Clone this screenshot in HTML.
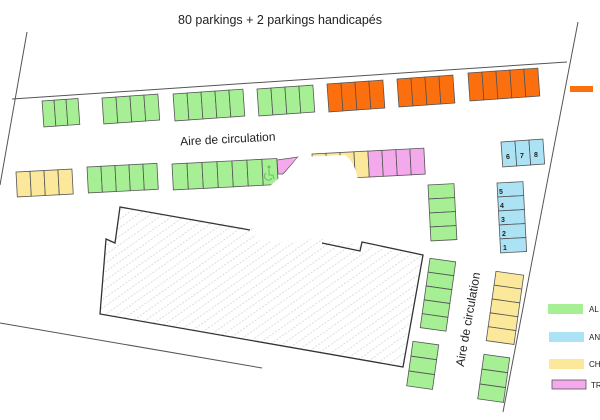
<!DOCTYPE html>
<html><head><meta charset="utf-8"><style>
html,body{margin:0;padding:0;background:#fff;width:600px;height:420px;overflow:hidden}
svg{display:block}
text{font-family:"Liberation Sans",sans-serif;fill:#222}
</style></head><body>
<svg width="600" height="420" viewBox="0 0 600 420" xmlns="http://www.w3.org/2000/svg">
<defs>
<pattern id="h" width="7" height="7" patternUnits="userSpaceOnUse" patternTransform="rotate(-35)">
<line x1="0" y1="3" x2="7" y2="3" stroke="#ddd" stroke-width="1" stroke-dasharray="2,1.5"/>
</pattern>
</defs>
<text x="280" y="24" font-size="12.5" text-anchor="middle">80 parkings + 2 parkings handicapés</text>
<g stroke="#555" stroke-width="1" fill="none">
<line x1="27" y1="32" x2="0" y2="185"/>
<line x1="12" y1="99" x2="567" y2="62"/>
<line x1="578" y1="22" x2="503" y2="412"/>
<line x1="0" y1="323" x2="262" y2="368"/>
</g>
<polygon points="120,207 423,255 403,367 100,314 106,239 115,243" fill="url(#h)"/>
<polyline points="250,230 120,207 115,243 106,239 100,314 403,367 423,255 362,242 360,251 322,243" fill="none" stroke="#333" stroke-width="1.3"/>
<line x1="273" y1="234" x2="278" y2="235" stroke="#333" stroke-width="1.3"/>
<g stroke="#555" stroke-width="0.8">
<g transform="rotate(-4 42 100)"><g fill="#a6ef95"><rect x="42" y="101" width="12" height="26"/><rect x="54" y="101" width="12" height="26"/><rect x="66" y="101" width="12" height="26"/></g></g>
<g transform="rotate(-4 102 98)"><g fill="#a6ef95"><rect x="102" y="98" width="14" height="26"/><rect x="116" y="98" width="14" height="26"/><rect x="130" y="98" width="14" height="26"/><rect x="144" y="98" width="14" height="26"/></g></g>
<g transform="rotate(-4 173 93)"><g fill="#a6ef95"><rect x="173" y="94" width="14" height="27"/><rect x="187" y="94" width="14" height="27"/><rect x="201" y="94" width="14" height="27"/><rect x="215" y="94" width="14" height="27"/><rect x="229" y="94" width="14" height="27"/></g></g>
<g transform="rotate(-4 257 89)"><g fill="#a6ef95"><rect x="257" y="89" width="14" height="27"/><rect x="271" y="89" width="14" height="27"/><rect x="285" y="89" width="14" height="27"/><rect x="299" y="89" width="14" height="27"/></g></g>
<g transform="rotate(-4 327 84)"><g fill="#fb6f0e"><rect x="327" y="84" width="14" height="28"/><rect x="341" y="84" width="14" height="28"/><rect x="355" y="84" width="14" height="28"/><rect x="369" y="84" width="14" height="28"/></g></g>
<g transform="rotate(-4 397 79)"><g fill="#fb6f0e"><rect x="397" y="79" width="14" height="28"/><rect x="411" y="79" width="14" height="28"/><rect x="425" y="79" width="14" height="28"/><rect x="439" y="79" width="14" height="28"/></g></g>
<g transform="rotate(-4 468 73)"><g fill="#fb6f0e"><rect x="468" y="73" width="14" height="28"/><rect x="482" y="73" width="14" height="28"/><rect x="496" y="73" width="14" height="28"/><rect x="510" y="73" width="14" height="28"/><rect x="524" y="73" width="14" height="28"/></g></g>
<rect x="570" y="86" width="23" height="6" fill="#fb6f0e" stroke="none"/>
<g transform="rotate(-3 16 172)"><g fill="#fbe89a"><rect x="16" y="172" width="14" height="25"/><rect x="30" y="172" width="14" height="25"/><rect x="44" y="172" width="14" height="25"/><rect x="58" y="172" width="14" height="25"/></g></g>
<g transform="rotate(-3 87 167)"><g fill="#a6ef95"><rect x="87" y="167" width="14" height="26"/><rect x="101" y="167" width="14" height="26"/><rect x="115" y="167" width="14" height="26"/><rect x="129" y="167" width="14" height="26"/><rect x="143" y="167" width="14" height="26"/></g></g>
<g transform="rotate(-3 172 164)"><g fill="#a6ef95"><rect x="172" y="164" width="15" height="26"/><rect x="187" y="164" width="15" height="26"/><rect x="202" y="164" width="15" height="26"/><rect x="217" y="164" width="15" height="26"/><rect x="232" y="164" width="15" height="26"/><rect x="247" y="164" width="15" height="26"/><rect x="262" y="164" width="15" height="26"/></g></g>
<polygon points="277,160 298,157 283,174 278,174" fill="#f4a9ec"/>
<g transform="rotate(-3 312 154)"><g fill="#fbe89a"><rect x="312" y="154" width="14" height="26"/><rect x="326" y="154" width="14" height="26"/><rect x="340" y="154" width="14" height="26"/><rect x="354" y="154" width="14" height="26"/></g>
<g fill="#f4a9ec"><rect x="368" y="154" width="14" height="26"/><rect x="382" y="154" width="14" height="26"/><rect x="396" y="154" width="14" height="26"/><rect x="410" y="154" width="14" height="26"/></g></g>
<g transform="rotate(-4 501 142)"><g fill="#abe3f5"><rect x="501" y="142" width="14" height="25"/><rect x="515" y="142" width="14" height="25"/><rect x="529" y="142" width="14" height="25"/></g></g>
<g transform="rotate(-3 428 185)" fill="#a6ef95"><rect x="428" y="185" width="26" height="14"/><rect x="428" y="199" width="26" height="14"/><rect x="428" y="213" width="26" height="14"/><rect x="428" y="227" width="26" height="14"/></g>
<g transform="rotate(-3 497 183)" fill="#abe3f5"><rect x="497" y="183" width="26" height="14"/><rect x="497" y="197" width="26" height="14"/><rect x="497" y="211" width="26" height="14"/><rect x="497" y="225" width="26" height="14"/><rect x="497" y="239" width="26" height="14"/></g>
<g transform="rotate(8 428 258)" fill="#a6ef95"><rect x="430" y="258" width="26" height="14"/><rect x="430" y="272" width="26" height="14"/><rect x="430" y="286" width="26" height="14"/><rect x="430" y="300" width="26" height="14"/><rect x="430" y="314" width="26" height="14"/></g>
<g transform="rotate(8 411 341)" fill="#a6ef95"><rect x="413" y="341" width="26" height="15"/><rect x="413" y="356" width="26" height="15"/><rect x="413" y="371" width="26" height="15"/></g>
<g transform="rotate(8 494 271)" fill="#fbe89a"><rect x="496" y="271" width="28" height="14"/><rect x="496" y="285" width="28" height="14"/><rect x="496" y="299" width="28" height="14"/><rect x="496" y="313" width="28" height="14"/><rect x="496" y="327" width="28" height="14"/></g>
<g transform="rotate(8 482 354)" fill="#a6ef95"><rect x="484" y="354" width="26" height="15"/><rect x="484" y="369" width="26" height="15"/><rect x="484" y="384" width="26" height="15"/></g>
<rect x="548" y="304" width="35" height="10" fill="#a6ef95" stroke="none"/>
<rect x="549" y="332" width="35" height="10" fill="#abe3f5" stroke="none"/>
<rect x="549" y="359" width="35" height="10" fill="#fbe89a" stroke="none"/>
<rect x="552" y="380" width="34" height="9" fill="#f4a9ec" stroke="#555"/>
</g>
<path d="M298,157 L345,155 Q355,162 358,180 L335,182 Q334,215 330,232 Q300,248 255,240 L256,200 Q270,185 283,175 Z" fill="#fff"/>
<g stroke="#6bbf60" stroke-width="1" fill="none">
<circle cx="269" cy="167" r="1" fill="#6bbf60"/>
<path d="M269,169 L269,175 L273,175 L274,179"/>
<path d="M266,173 A4,4 0 1 0 272,178"/>
</g>
<g font-size="7" font-weight="bold" style="fill:#111">
<text x="506" y="159">6</text><text x="520" y="158">7</text><text x="534" y="157">8</text>
<text x="499" y="194">5</text><text x="500" y="208">4</text><text x="501" y="222">3</text><text x="502" y="236">2</text><text x="503" y="250">1</text>
</g>
<text x="228" y="143" font-size="12" text-anchor="middle" transform="rotate(-3 228 143)">Aire de circulation</text>
<text x="472" y="320" font-size="12" text-anchor="middle" transform="rotate(-80 472 320)">Aire de circulation</text>
<g font-size="8">
<text x="589" y="312">AL</text><text x="589" y="340">AN</text><text x="589" y="367">CH</text><text x="591" y="388">TR</text>
</g>
</svg>
</body></html>
